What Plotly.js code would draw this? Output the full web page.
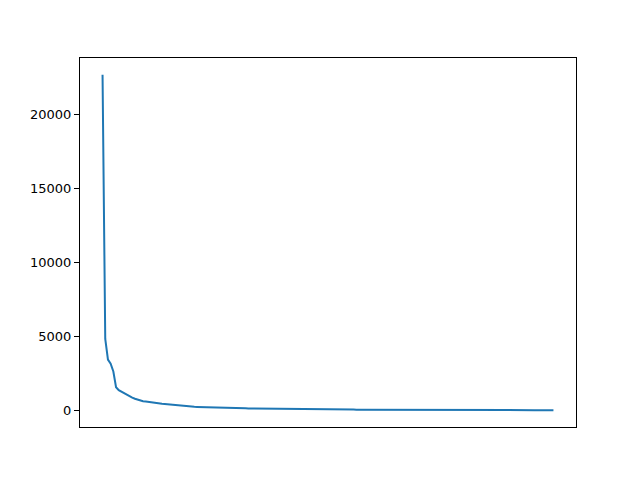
<!DOCTYPE html>
<html>
<head>
<meta charset="utf-8">
<script src="https://cdn.plot.ly/plotly-3.0.1.min.js"></script>
<style>
  html, body { margin: 0; padding: 0; background: #fff; }
  #chart { width: 640px; height: 480px; }
</style>
</head>
<body>
<div id="chart"></div>
<script>
// values, sorted descending
var counts = [
  22650, 4820, 3420, 3150, 2620, 1560, 1360, 1250, 1170, 1060,
  950, 860, 780, 720, 650, 610, 590, 560, 520, 490,
  470, 450, 440, 420, 400, 380, 360, 345, 320, 300,
  290, 275, 262, 250, 240, 230, 222, 215, 208, 202,
  197, 192, 188, 184, 180, 175, 170, 165, 157, 150,
  143, 139, 135, 131, 128, 124, 121, 118, 115, 112,
  109, 106, 103, 100, 98, 95, 93, 90, 88, 86,
  84, 82, 80, 78, 76, 74, 72, 70, 68, 66,
  64, 63, 61, 60, 58, 57, 55, 54, 52, 51,
  50, 49, 47, 46, 45, 44, 43, 42, 41, 40,
  39, 38, 37, 35, 35, 34, 33, 32, 31, 30,
  29, 28, 28, 27, 26, 25, 24, 23, 22, 22,
  21, 21, 20, 20, 19, 19, 18, 18, 17, 17,
  16, 16, 16, 15, 15, 14, 14, 14, 13, 13,
  13, 12, 12, 12, 11, 11, 11, 10, 10, 10,
  10, 9, 9, 9, 9, 8, 8, 8, 8, 7,
  7, 7, 7, 6, 6, 6, 6, 5
];
var yTicks = [0, 5000, 10000, 15000, 20000];

var idx = [];
for (var i = 0; i < counts.length; i++) idx.push(i);

var n = counts.length - 1;
var ymax = Math.max.apply(null, counts), ymin = Math.min.apply(null, counts);
var pad = 0.05 * (ymax - ymin);

var trace = {
  x: idx,
  y: counts,
  type: 'scatter',
  mode: 'lines',
  line: { color: '#1f77b4', width: 2 },
  hoverinfo: 'none'
};

var layout = {
  width: 640,
  height: 480,
  margin: { l: 80, r: 64, t: 58, b: 53 },
  paper_bgcolor: '#fff',
  plot_bgcolor: '#fff',
  showlegend: false,
  font: { family: 'DejaVu Sans', size: 13, color: '#000' },
  xaxis: {
    range: [-0.05 * n, n * 1.05],
    showticklabels: false,
    ticks: '',
    showgrid: false,
    zeroline: false,
    showline: true,
    mirror: true,
    linecolor: '#000',
    linewidth: 1
  },
  yaxis: {
    range: [ymin - pad, ymax + pad],
    tickvals: yTicks,
    ticktext: yTicks.map(String),
    ticks: 'outside',
    ticklen: 5,
    tickwidth: 1,
    tickcolor: '#000',
    showgrid: false,
    zeroline: false,
    showline: true,
    mirror: true,
    linecolor: '#000',
    linewidth: 1
  }
};

Plotly.newPlot('chart', [trace], layout, { staticPlot: true, displayModeBar: false });
</script>
</body>
</html>
